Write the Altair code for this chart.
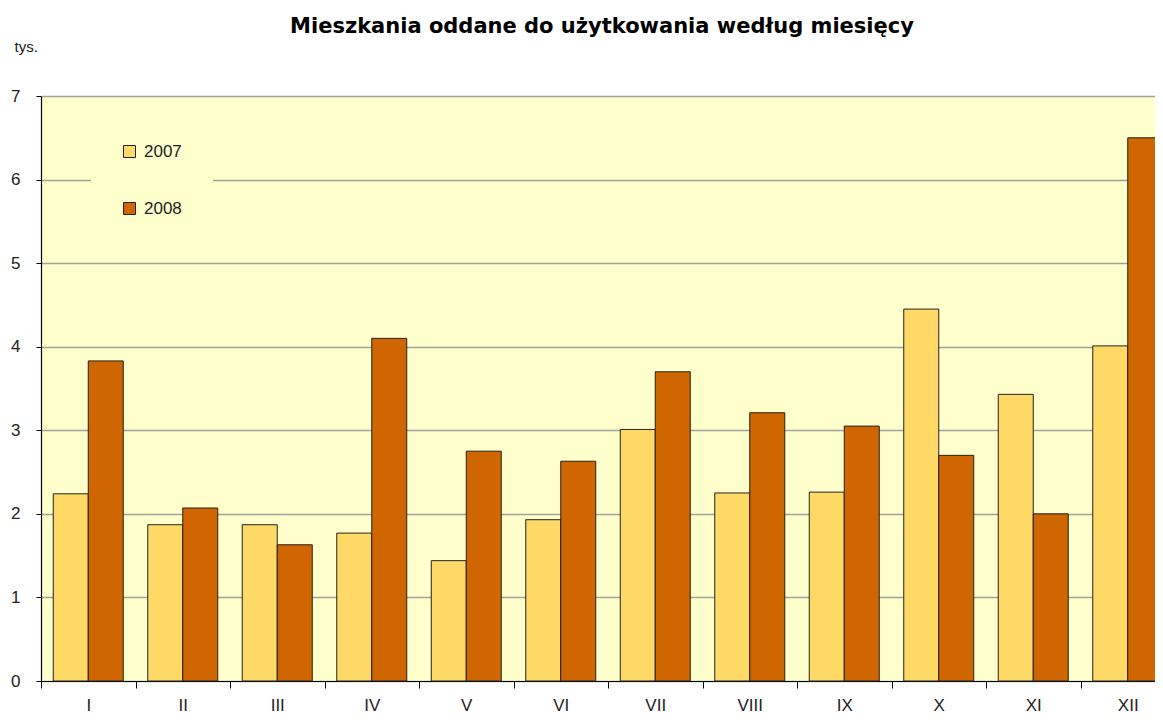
import altair as alt
import pandas as pd

months = ["I", "II", "III", "IV", "V", "VI", "VII", "VIII", "IX", "X", "XI", "XII"]
years = ["2007", "2008"]
v2007 = [2.24, 1.87, 1.87, 1.77, 1.44, 1.93, 3.01, 2.25, 2.26, 4.45, 3.43, 4.01]
v2008 = [3.83, 2.07, 1.63, 4.10, 2.75, 2.63, 3.70, 3.21, 3.05, 2.70, 2.00, 6.50]
y_ticks = [0, 1, 2, 3, 4, 5, 6, 7]
colors = ["#FFD966", "#D06600"]

rows = []
for m, a, b in zip(months, v2007, v2008):
    rows.append({"month": m, "year": "2007", "value": a})
    rows.append({"month": m, "year": "2008", "value": b})
df = pd.DataFrame(rows)

FONT = "Liberation Sans"

chart = alt.Chart(df).mark_bar(stroke="#222222", strokeWidth=1).encode(
    x=alt.X(
        "month:N",
        sort=months,
        scale=alt.Scale(range=[0, 1134], paddingInner=0, paddingOuter=0),
        axis=alt.Axis(
            title=None, labelAngle=0, tickBand="extent", grid=False,
            domainColor="black", domainWidth=1.2, tickColor="black", tickSize=7,
            labelPadding=9, labelFontSize=17, labelColor="#222222", labelFont=FONT,
        ),
    ),
    xOffset=alt.XOffset("year:N", scale=alt.Scale(domain=years, paddingOuter=0.35, paddingInner=0)),
    y=alt.Y(
        "value:Q",
        scale=alt.Scale(domain=[0, 7], nice=False),
        axis=alt.Axis(
            values=y_ticks, format="d", title="tys.", titleAngle=0, titleX=-27, titleY=-50,
            titleAlign="left", titleBaseline="middle", titleFont=FONT, titleFontSize=15,
            titleFontWeight="normal", titleColor="#222222",
            domainColor="black", domainWidth=1.2, tickColor="black", tickSize=5,
            labelPadding=16, labelFontSize=17, labelColor="#222222", labelFont=FONT,
            gridColor="#A0A0A0", gridWidth=1.5,
        ),
    ),
    color=alt.Color(
        "year:N",
        scale=alt.Scale(domain=years, range=colors),
        legend=alt.Legend(
            title=None, orient="none", legendX=50, legendY=17, padding=30,
            fillColor="#FFFFCC", strokeColor="#FFFFCC",
            symbolType="square", symbolSize=144, symbolStrokeColor="#222222",
            symbolStrokeWidth=1, symbolOpacity=1,
            labelFont=FONT, labelFontSize=17, labelColor="#222222", labelOffset=6,
            rowPadding=39,
        ),
    ),
).properties(
    width=1114,
    height=585,
    autosize="none",
    padding={"left": 33, "top": 88, "right": 0, "bottom": 33},
    background="white",
    title=alt.TitleParams(
        "Mieszkania oddane do użytkowania według miesięcy",
        anchor="middle", frame="group", font="DejaVu Sans", fontSize=21,
        fontWeight="bold", color="black", offset=2, dx=4,
    ),
).configure_view(fill="#FFFFCC", stroke=None)

chart.save("out.html", embed_options={"renderer": "svg", "actions": False})
